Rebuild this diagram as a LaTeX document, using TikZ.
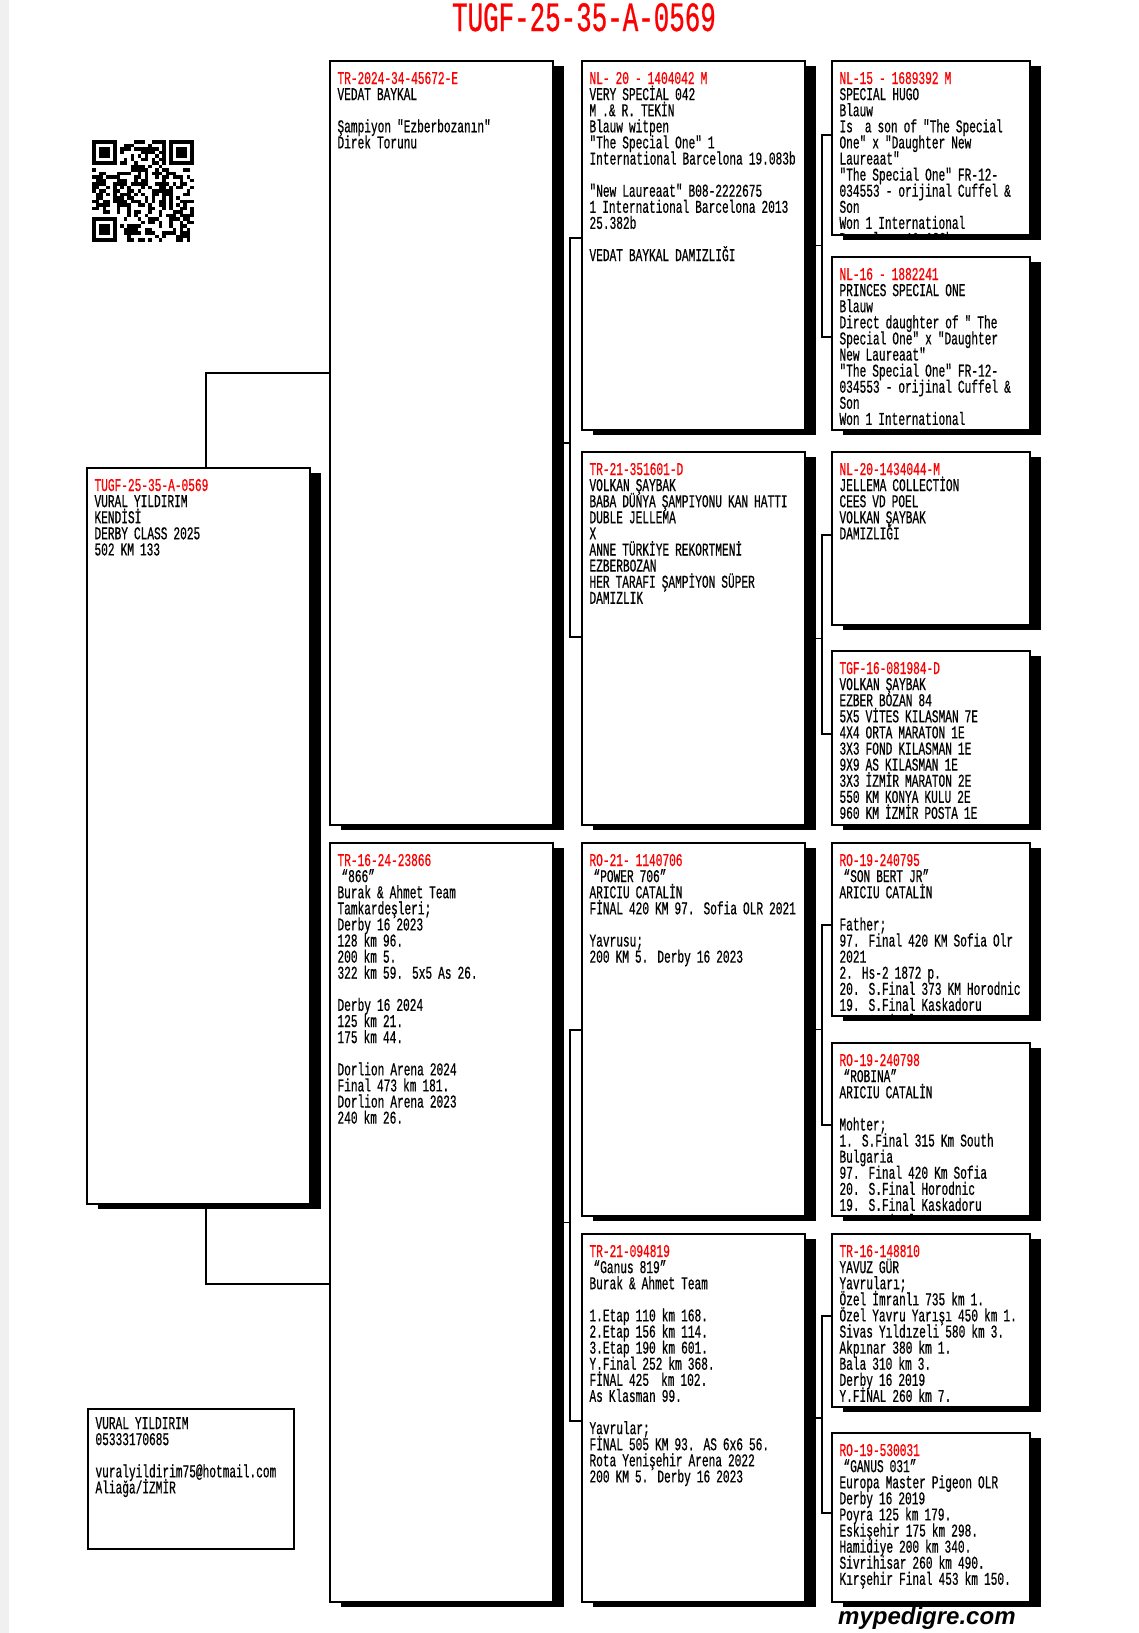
\documentclass[tikz,border=0pt]{standalone}
\usepackage{fontspec}
\usetikzlibrary{shadows,backgrounds}
\newfontfamily\pfont[FakeStretch=0.62,FakeBold=0.6]{Liberation Mono}
\newfontfamily\wfont{Liberation Sans}
\definecolor{pred}{RGB}{250,0,0}
\tikzset{
  pbox/.style={draw=black, line width=1.2pt, fill=white, inner sep=0pt, outer sep=0pt, anchor=north west,
     drop shadow={shadow xshift=10.5pt, shadow yshift=-5pt, opacity=1, fill=black}},
  plain/.style={draw=black, line width=1.2pt, fill=white, inner sep=0pt, outer sep=0pt, anchor=north west},
  ptext/.style={anchor=north west, inner sep=0pt, outer sep=0pt, text width=400pt, align=left,
     font={\pfont\fontsize{18}{16.1}\selectfont\lineskiplimit=-100pt\relax}},
  conn/.style={draw=black, line width=1.2pt},
}
\newcommand\bl{\mbox{}}
\newcommand\pedbox[7]{%
  \node[pbox, minimum width={#4-#2}, minimum height={#5-#3}] (#1) at (#2,#3) {};
  \begin{scope}
    \clip (#2,#3) rectangle (#4,#5-0.6);
    \node[ptext] (#1-t) at (#2+7.5,#3+10) {\rule{0pt}{13pt}\textcolor{pred}{#6}\\#7};
  \end{scope}}
\newcommand\finder[2]{%
  \fill[white] (#1*3.5-3.5,#2*3.5-3.5) rectangle ++(31.5,31.5);
  \fill[black] (#1*3.5,#2*3.5) rectangle ++(24.5,24.5);
  \fill[white] (#1*3.5+3.5,#2*3.5+3.5) rectangle ++(17.5,17.5);
  \fill[black] (#1*3.5+7,#2*3.5+7) rectangle ++(10.5,10.5);}
\begin{document}
\begin{tikzpicture}[x=1pt,y=-1pt]
\useasboundingbox (0,0) rectangle (1139,1633);
\fill[gray!12] (0,0) rectangle (9,1633);

% title
\node[anchor=base, inner sep=0pt, text=pred, font={\pfont\fontsize{41.7}{40}\selectfont}] (title) at (584,31) {TUGF-25-35-A-0569};

% QR code
\begin{scope}[shift={(92,140)}]
  \pgfmathsetseed{4217}
  \foreach \i in {0,...,28}{\foreach \j in {0,...,28}{%
    \pgfmathrandominteger{\r}{0}{1}%
    \ifnum\r=1 \fill[black] (\i*3.5,\j*3.5) rectangle ++(3.5,3.5);\fi}}
  \finder{0}{0}
  \finder{22}{0}
  \finder{0}{22}
\end{scope}

% subject
\pedbox{c1}{87}{468}{310}{1204}{TUGF-25-35-A-0569}{VURAL YILDIRIM\\KENDİSİ\\DERBY CLASS 2025\\502 KM 133}

% generation 2
\pedbox{c2a}{330}{61}{553}{825}{TR-2024-34-45672-E}{VEDAT BAYKAL\\\bl\\Şampiyon "Ezberbozanın"\\Direk Torunu}
\pedbox{c2b}{330}{843}{553}{1602}{TR-16-24-23866}{\hspace*{4pt}“866”\\Burak \& Ahmet Team\\Tamkardeşleri;\\Derby 16 2023\\128 km 96.\\200 km 5.\\322 km 59. 5x5 As 26.\\\bl\\Derby 16 2024\\125 km 21.\\175 km 44.\\\bl\\Dorlion Arena 2024\\Final 473 km 181.\\Dorlion Arena 2023\\240 km 26.}

% generation 3
\pedbox{c3a}{582}{61}{805}{430}{NL- 20 - 1404042 M}{VERY SPECİAL 042\\M .\& R. TEKİN\\Blauw witpen\\"The Special One" 1\\International Barcelona 19.083b\\\bl\\"New Laureaat" B08-2222675\\1 International Barcelona 2013\\25.382b\\\bl\\VEDAT BAYKAL DAMIZLIĞI}
\pedbox{c3b}{582}{452}{805}{825}{TR-21-351601-D}{VOLKAN ŞAYBAK\\BABA DÜNYA ŞAMPIYONU KAN HATTI\\DUBLE JELLEMA\\X\\ANNE TÜRKİYE REKORTMENİ\\EZBERBOZAN\\HER TARAFI ŞAMPİYON SÜPER\\DAMIZLIK}
\pedbox{c3c}{582}{843}{805}{1216}{RO-21- 1140706}{\hspace*{4pt}“POWER 706”\\ARICIU CATALİN\\FİNAL 420 KM 97. Sofia OLR 2021\\\bl\\Yavrusu;\\200 KM 5. Derby 16 2023}
\pedbox{c3d}{582}{1234}{805}{1602}{TR-21-094819}{\hspace*{4pt}“Ganus 819”\\Burak \& Ahmet Team\\\bl\\1.Etap 110 km 168.\\2.Etap 156 km 114.\\3.Etap 190 km 601.\\Y.Final 252 km 368.\\FİNAL 425\ \ km 102.\\As Klasman 99.\\\bl\\Yavrular;\\FİNAL 505 KM 93. AS 6x6 56.\\Rota Yenişehir Arena 2022\\200 KM 5. Derby 16 2023}

% generation 4
\pedbox{c4a}{832}{61}{1030}{235}{NL-15 - 1689392 M}{SPECIAL HUGO\\Blauw\\Is\ \ a son of "The Special\\One" x "Daughter New\\Laureaat"\\"The Special One" FR-12-\\034553 - orijinal Cuffel \&\\Son\\Won 1 International\\Barcelona 19.083b}
\pedbox{c4b}{832}{257}{1030}{430}{NL-16 - 1882241}{PRINCES SPECIAL ONE\\Blauw\\Direct daughter of " The\\Special One" x "Daughter\\New Laureaat"\\"The Special One" FR-12-\\034553 - orijinal Cuffel \&\\Son\\Won 1 International}
\pedbox{c4c}{832}{452}{1030}{625}{NL-20-1434044-M}{JELLEMA COLLECTİON\\CEES VD POEL\\VOLKAN ŞAYBAK\\DAMIZLIĞI}
\pedbox{c4d}{832}{651}{1030}{825}{TGF-16-081984-D}{VOLKAN ŞAYBAK\\EZBER BOZAN 84\\5X5 VİTES KILASMAN 7E\\4X4 ORTA MARATON 1E\\3X3 FOND KILASMAN 1E\\9X9 AS KILASMAN 1E\\3X3 İZMİR MARATON 2E\\550 KM KONYA KULU 2E\\960 KM İZMİR POSTA 1E}
\pedbox{c4e}{832}{843}{1030}{1016}{RO-19-240795}{\hspace*{4pt}“SON BERT JR”\\ARICIU CATALİN\\\bl\\Father;\\97. Final 420 KM Sofia Olr\\2021\\2. Hs-2 1872 p.\\20. S.Final 373 KM Horodnic\\19. S.Final Kaskadoru\\17. S.Final 360 KM}
\pedbox{c4f}{832}{1043}{1030}{1216}{RO-19-240798}{\hspace*{4pt}“ROBINA”\\ARICIU CATALİN\\\bl\\Mohter;\\1. S.Final 315 Km South\\Bulgaria\\97. Final 420 Km Sofia\\20. S.Final Horodnic\\19. S.Final Kaskadoru\\17. S.Final 360 KM}
\pedbox{c4g}{832}{1234}{1030}{1407}{TR-16-148810}{YAVUZ GÜR\\Yavruları;\\Özel İmranlı 735 km 1.\\Özel Yavru Yarışı 450 km 1.\\Sivas Yıldızeli 580 km 3.\\Akpınar 380 km 1.\\Bala 310 km 3.\\Derby 16 2019\\Y.FİNAL 260 km 7.}
\pedbox{c4h}{832}{1433}{1030}{1602}{RO-19-530031}{\hspace*{4pt}“GANUS 031”\\Europa Master Pigeon OLR\\Derby 16 2019\\Poyra 125 km 179.\\Eskişehir 175 km 298.\\Hamidiye 200 km 340.\\Sivrihisar 260 km 490.\\Kırşehir Final 453 km 150.}

% contact box
\node[plain, minimum width=206, minimum height=140] (contact) at (88,1409) {};
\node[ptext] (contact-t) at (95.5,1416) {\rule{0pt}{13pt}VURAL YILDIRIM\\05333170685\\\bl\\vuralyildirim75@hotmail.com\\Aliağa/İZMİR};

% footer
\node[anchor=base west, inner sep=0pt, font={\wfont\bfseries\itshape\fontsize{24}{24}\selectfont}] (brand) at (838,1624) {mypedigre.com};

% connector junctions
\coordinate (j2a) at (c2a.west |- 0,373);
\coordinate (j2b) at (c2b.west |- 0,1284);
\coordinate (j3a) at (c3a.west |- 0,238);
\coordinate (j3b) at (c3b.west |- 0,637);
\coordinate (j3c) at (c3c.west |- 0,1030);
\coordinate (j3d) at (c3d.west |- 0,1421);
\coordinate (j4a) at (c4a.west |- 0,135);
\coordinate (j4b) at (c4b.west |- 0,337);
\coordinate (j4c) at (c4c.west |- 0,535);
\coordinate (j4d) at (c4d.west |- 0,734);
\coordinate (j4e) at (c4e.west |- 0,925);
\coordinate (j4f) at (c4f.west |- 0,1125);
\coordinate (j4g) at (c4g.west |- 0,1316);
\coordinate (j4h) at (c4h.west |- 0,1513);

\begin{scope}[on background layer]
  \draw[conn] ([xshift=7.5pt]c1.north) |- (j2a);
  \draw[conn] ([xshift=7.5pt]c1.south) |- (j2b);
  % gen2 -> gen3
  \draw[conn] (j3a) -| ([xshift=-12pt]j3b) -- (j3b);
  \draw[conn] (c2a.east) -- ([xshift=-12pt]c2a.east -| j3a);
  \draw[conn] (j3c) -| ([xshift=-12pt]j3d) -- (j3d);
  \draw[conn] (c2b.east) -- ([xshift=-12pt]c2b.east -| j3c);
  % gen3 -> gen4
  \draw[conn] (j4a) -| ([xshift=-10pt]j4b) -- (j4b);
  \draw[conn] (c3a.east) -- ([xshift=-10pt]c3a.east -| j4a);
  \draw[conn] (j4c) -| ([xshift=-10pt]j4d) -- (j4d);
  \draw[conn] (c3b.east) -- ([xshift=-10pt]c3b.east -| j4c);
  \draw[conn] (j4e) -| ([xshift=-10pt]j4f) -- (j4f);
  \draw[conn] (c3c.east) -- ([xshift=-10pt]c3c.east -| j4e);
  \draw[conn] (j4g) -| ([xshift=-10pt]j4h) -- (j4h);
  \draw[conn] (c3d.east) -- ([xshift=-10pt]c3d.east -| j4g);
\end{scope}
\end{tikzpicture}
\end{document}
